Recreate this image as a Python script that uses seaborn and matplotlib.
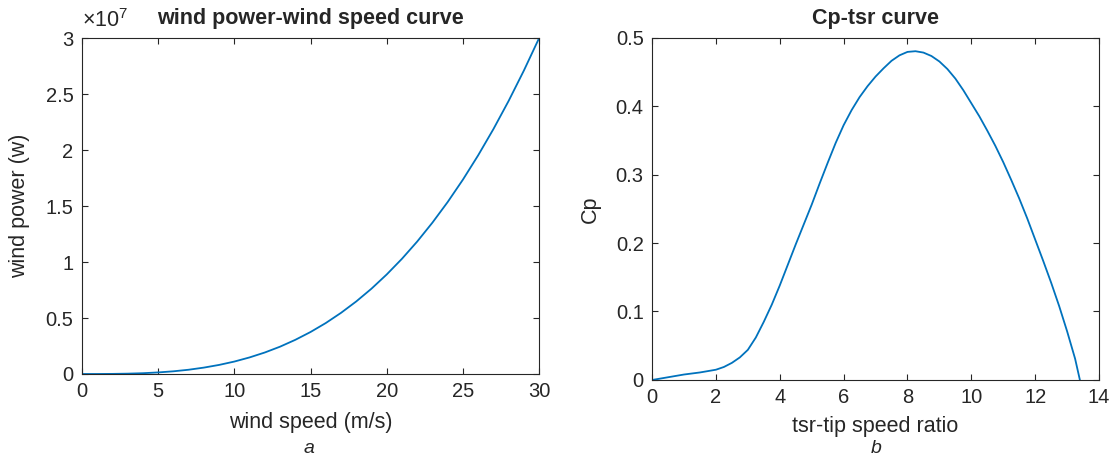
import pandas as pd
import matplotlib.pyplot as plt
import matplotlib.ticker as mticker
import seaborn as sns

# wind power vs wind speed (in units of 1e7 W)
wind_speed = list(range(0, 31))
wind_power_e7 = [0, 0.0001, 0.0009, 0.003, 0.007, 0.014, 0.024, 0.038, 0.057,
                 0.081, 0.111, 0.148, 0.192, 0.244, 0.305, 0.375, 0.455,
                 0.546, 0.648, 0.762, 0.889, 1.029, 1.183, 1.352, 1.536,
                 1.736, 1.953, 2.187, 2.439, 2.71, 3.0]

# Cp vs tip speed ratio
tsr = [0, 0.25, 0.5, 0.75, 1, 1.25, 1.5, 1.75, 2, 2.25, 2.5, 2.75, 3, 3.25,
       3.5, 3.75, 4, 4.25, 4.5, 4.75, 5, 5.25, 5.5, 5.75, 6, 6.25, 6.5, 6.75,
       7, 7.25, 7.5, 7.75, 8, 8.25, 8.5, 8.75, 9, 9.25, 9.5, 9.75, 10, 10.25,
       10.5, 10.75, 11, 11.25, 11.5, 11.75, 12, 12.25, 12.5, 12.75, 13,
       13.25, 13.4]
cp = [0, 0.002, 0.004, 0.006, 0.008, 0.0095, 0.011, 0.013, 0.015, 0.019,
      0.025, 0.033, 0.044, 0.062, 0.085, 0.11, 0.138, 0.168, 0.198, 0.227,
      0.256, 0.287, 0.317, 0.346, 0.372, 0.394, 0.413, 0.429, 0.443, 0.455,
      0.466, 0.474, 0.479, 0.48, 0.478, 0.473, 0.465, 0.454, 0.44, 0.423,
      0.404, 0.385, 0.364, 0.342, 0.318, 0.292, 0.265, 0.236, 0.205, 0.174,
      0.142, 0.108, 0.071, 0.031, 0.0]


class MatlabFormatter(mticker.ScalarFormatter):
    def _set_format(self):
        self.format = '%g'


sns.set_style("ticks")
plt.rcParams['font.family'] = ['Liberation Sans', 'DejaVu Sans']
plt.rcParams['mathtext.fontset'] = 'custom'
plt.rcParams['mathtext.rm'] = 'Liberation Sans'

blue = '#0072BD'
txt = '#262626'

fig = plt.figure(figsize=(11.15, 4.62), dpi=100)
ax1 = fig.add_axes([0.0735, 0.1905, 0.41, 0.727])
ax2 = fig.add_axes([0.5848, 0.1775, 0.4009, 0.7413])

df1 = pd.DataFrame({'v': wind_speed, 'p': [p * 1e7 for p in wind_power_e7]})
sns.lineplot(data=df1, x='v', y='p', ax=ax1, color=blue, linewidth=1.3)
ax1.set_xlim(0, 30)
ax1.set_ylim(0, 3e7)
ax1.set_xticks([0, 5, 10, 15, 20, 25, 30])
ax1.set_yticks([0, 0.5e7, 1e7, 1.5e7, 2e7, 2.5e7, 3e7])
fmt = MatlabFormatter(useMathText=True)
fmt.set_powerlimits((0, 0))
ax1.yaxis.set_major_formatter(fmt)
ax1.yaxis.OFFSETTEXTPAD = 8
ax1.yaxis.get_offset_text().set_fontsize(15.5)
ax1.yaxis.get_offset_text().set_color(txt)
ax1.set_xlabel('wind speed (m/s)', fontsize=15.5, color=txt, labelpad=8)
ax1.set_ylabel('wind power (w)', fontsize=15.5, color=txt, labelpad=11)
ax1.set_title('wind power-wind speed curve', fontsize=15.5,
              fontweight='bold', pad=10)

df2 = pd.DataFrame({'tsr': tsr, 'cp': cp})
sns.lineplot(data=df2, x='tsr', y='cp', ax=ax2, color=blue, linewidth=1.3)
ax2.set_xlim(0, 14)
ax2.set_ylim(0, 0.5)
ax2.set_xticks([0, 2, 4, 6, 8, 10, 12, 14])
ax2.set_yticks([0, 0.1, 0.2, 0.3, 0.4, 0.5])
ax2.yaxis.set_major_formatter(mticker.FormatStrFormatter('%g'))
ax2.set_xlabel('tsr-tip speed ratio', fontsize=15.5, color=txt, labelpad=6)
ax2.set_ylabel('Cp', fontsize=15.5, color=txt, labelpad=11)
ax2.set_title('Cp-tsr curve', fontsize=15.5, fontweight='bold', pad=10)

for ax in (ax1, ax2):
    for s in ax.spines.values():
        s.set_visible(True)
        s.set_color(txt)
        s.set_linewidth(0.8)
    ax.tick_params(direction='in', top=True, right=True, labelsize=14.5,
                   colors=txt, length=4, width=0.8, pad=6)

fig.text(0.2775, 0.03, 'a', fontsize=14, style='italic', ha='center',
         va='center')
fig.text(0.786, 0.03, 'b', fontsize=14, style='italic', ha='center',
         va='center')

plt.savefig('out.png', dpi=100)
